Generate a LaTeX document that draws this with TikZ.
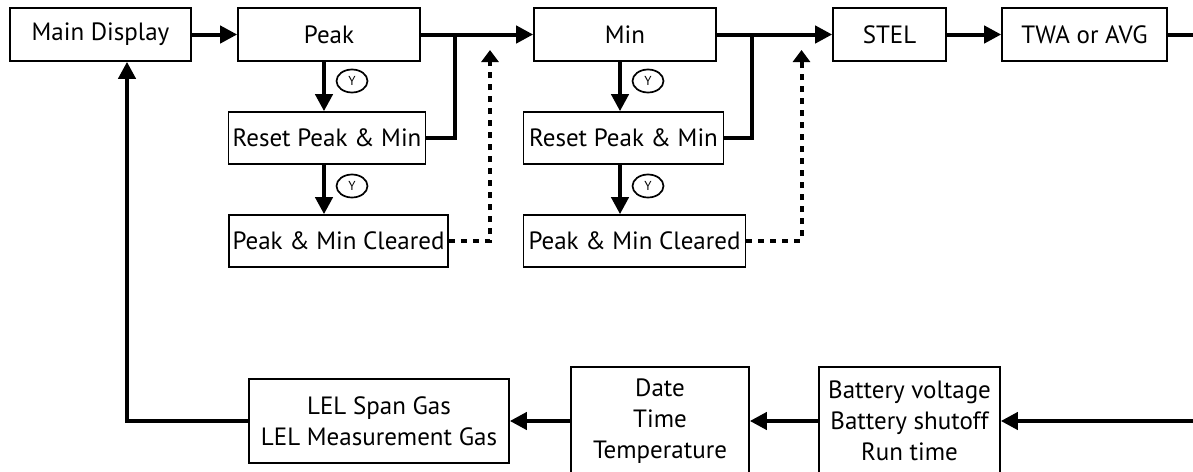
\documentclass[tikz,border=0pt]{standalone}
\usepackage{fontspec}
\setmainfont{PT Sans}
\usetikzlibrary{arrows.meta, shapes.geometric}

\begin{document}
\begin{tikzpicture}[x=1pt, y=-1pt,
  box/.style={draw, line width=1.6pt, inner sep=0pt, align=center, minimum height=53pt, font=\fontsize{25}{31}\selectfont},
  flow/.style={line width=4pt, -{Triangle[length=17pt,width=17pt]}},
  link/.style={line width=4pt},
  skip/.style={line width=4pt, dash pattern=on 6pt off 6pt, -{Triangle[length=12pt,width=17pt]}},
  yes/.style={draw, ellipse, line width=1.7pt, minimum width=31pt, minimum height=23pt, inner sep=0pt, font=\fontsize{13}{13}\selectfont}]
\clip (0,0) rectangle (1193,471);
\fill [white] (0,0) rectangle (1193,471);
\node [box, minimum width=181pt] (main) at (100.5,34.5) {Main Display};
\node [box, minimum width=182pt] (peak) at (329,34.5) {Peak};
\node [box, minimum width=182pt] (min) at (625,34.5) {Min};
\node [box, minimum width=113pt] (stel) at (889.5,34.5) {STEL};
\node [box, minimum width=165pt] (twa) at (1084.5,34.5) {TWA or AVG};
\node [box, minimum width=197pt, minimum height=52pt] (resetA) at (327,138) {Reset Peak \& Min};
\node [box, minimum width=200pt, minimum height=52pt] (resetB) at (623.5,138) {Reset Peak \& Min};
\node [box, minimum width=219pt, minimum height=52pt] (clearA) at (338.5,241) {Peak \& Min Cleared};
\node [box, minimum width=222pt, minimum height=52pt] (clearB) at (634.5,241) {Peak \& Min Cleared};
\node [box, minimum width=260pt, minimum height=84pt] (lel) at (379,421) {LEL Span Gas\\LEL Measurement Gas};
\node [box, minimum width=178pt, minimum height=108pt] (date) at (660,421) {Date\\Time\\Temperature};
\node [box, minimum width=181pt, minimum height=108pt] (batt) at (909.5,421) {Battery voltage\\Battery shutoff\\Run time};
\node [yes] (yA1) at (352,81) {Y};
\node [yes] (yA2) at (352,186) {Y};
\node [yes] (yB1) at (648,81) {Y};
\node [yes] (yB2) at (648,186) {Y};
\coordinate (downA) at (324,0);
\coordinate (downB) at (620,0);
\coordinate (joinA) at (455,138);
\coordinate (joinB) at (752,138);
\coordinate (skipA) at (490,50);
\coordinate (skipB) at (801.5,50);
\coordinate (rightT) at (1200,34.5);
\coordinate (rightB) at (1200,421);
\coordinate (back) at (127,421);
\draw [flow] (main) -- (peak);
\draw [flow] (peak) -- (min);
\draw [flow] (min) -- (stel);
\draw [flow] (stel) -- (twa);
\draw [link] (twa) -- (rightT);
\draw [flow] (peak.south -| downA) -- (resetA.north -| downA);
\draw [flow] (resetA.south -| downA) -- (clearA.north -| downA);
\draw [flow] (min.south -| downB) -- (resetB.north -| downB);
\draw [flow] (resetB.south -| downB) -- (clearB.north -| downB);
\draw [link] (resetA.east) -- (joinA) -- (joinA |- peak.east);
\draw [link] (resetB.east) -- (joinB) -- (joinB |- min.east);
\draw [skip] (clearA.east) -- (clearA.east -| skipA) -- (skipA);
\draw [skip] (clearB.east) -- (clearB.east -| skipB) -- (skipB);
\draw [flow] (rightB) -- (batt);
\draw [flow] (batt) -- (date);
\draw [flow] (date) -- (lel);
\draw [flow] (lel.west) -- (back) -- (back |- main.south);
\end{tikzpicture}
\end{document}
